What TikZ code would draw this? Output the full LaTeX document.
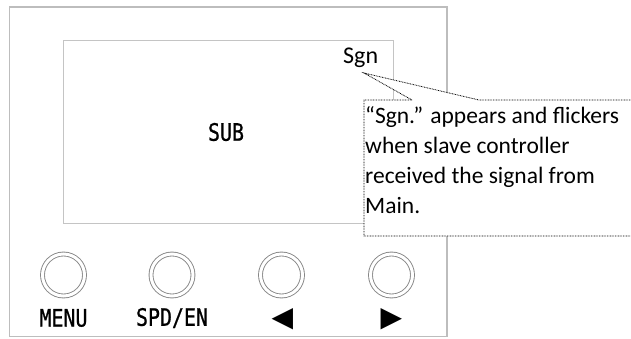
\documentclass[tikz,border=0pt]{standalone}
\usepackage{fontspec}
\setmainfont{Carlito}
\newfontfamily\gothic[FakeStretch=0.83,FakeBold=0.8]{DejaVu Sans Mono}
\newfontfamily\symb{DejaVu Sans}
\definecolor{framegray}{HTML}{BDBDBD}
\definecolor{screengray}{HTML}{C4C4C4}
\definecolor{ringgray}{HTML}{858585}
\begin{document}
\begin{tikzpicture}[x=1pt,y=-1pt,
  panel/.style={draw=framegray, line width=1.5pt, inner sep=0pt, outer sep=0pt, anchor=north west},
  screen/.style={draw=screengray, line width=1pt, inner sep=0pt, outer sep=0pt, anchor=north west},
  gothiclabel/.style={inner sep=0pt, font=\gothic\fontsize{24}{24}\selectfont},
  arrowlabel/.style={inner sep=0pt, font=\symb\fontsize{28}{28}\selectfont},
  knob/.style={circle, inner sep=0pt, outer sep=0pt, minimum size=42pt, draw=ringgray, line width=0.9pt, double=white, double distance=3pt},
  callout/.style={draw=black, fill=white, line width=0.8pt, dash pattern=on 0.8pt off 0.8pt},
  notetext/.style={inner sep=0pt, anchor=north west, align=left, font=\fontsize{23.5}{30}\selectfont}
]
\useasboundingbox (0,0) rectangle (631,338);
% housing and screen
\node[panel, minimum width=437.5pt, minimum height=329.5pt] (housing) at (9.5,7) {};
\node[screen, minimum width=330pt, minimum height=183pt] (display) at (63,40.5) {};
\node[gothiclabel] (sub) at (226,132) {SUB};
\node[inner sep=0pt, anchor=base west, font=\fontsize{24}{24}\selectfont] (sgn) at (343,63) {Sgn};
% buttons
\node[knob] (b1) at (63.5,275) {};
\node[knob] (b2) at (172,275) {};
\node[knob] (b3) at (281.5,275) {};
\node[knob] (b4) at (391.5,275) {};
\node[gothiclabel] (l1) at (63.5,318) {MENU};
\node[gothiclabel] (l2) at (172,318) {SPD/EN};
\node[arrowlabel] (l3) at (282.5,319.5) {◀};
\node[arrowlabel] (l4) at (391.5,319.5) {▶};
% callout
\coordinate (tip) at (364,73);
\coordinate (w1) at (412,100);
\coordinate (w2) at (479,100);
\coordinate (cne) at (644,100);
\coordinate (cse) at (644,236);
\coordinate (csw) at (364,236);
\coordinate (cnw) at (364,100);
\draw[callout] (w1) -- (tip) -- (w2) -- (cne) -- (cse) -- (csw) -- (cnw) -- cycle;
\node[notetext] (note) at (365,106.5) {“Sgn.” appears and flickers\\when slave controller\\received the signal from\\Main.};
\end{tikzpicture}
\end{document}
